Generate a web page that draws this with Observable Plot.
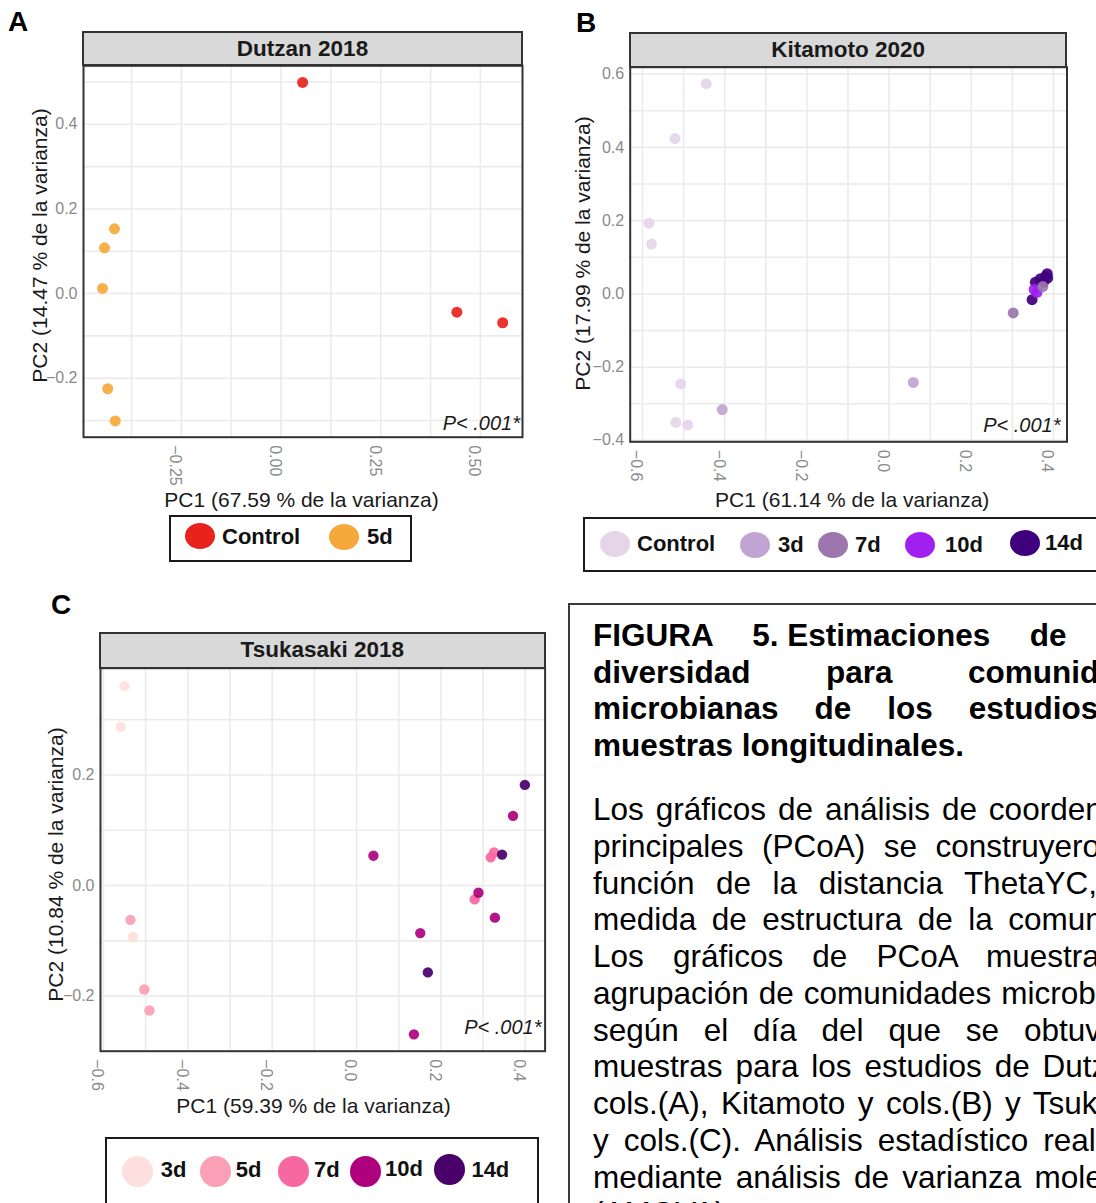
<!DOCTYPE html>
<html><head><meta charset="utf-8">
<script src="https://cdn.jsdelivr.net/npm/d3@7"></script>
<script src="https://cdn.jsdelivr.net/npm/@observablehq/plot@0.6"></script>
<style>
html,body{margin:0;padding:0;background:#fff;width:1096px;height:1203px;overflow:hidden;}
body{position:relative;font-family:'Liberation Sans',Arial,Helvetica,sans-serif;}
.plotwrap{position:absolute;}
.strip{position:absolute;box-sizing:border-box;background:#d9d9d9;border:2px solid #333;font-weight:bold;font-size:22.5px;color:#1a1a1a;display:flex;align-items:center;justify-content:center;}
.letter{position:absolute;font-weight:bold;font-size:28px;line-height:28px;color:#000;}
.legend{position:absolute;box-sizing:border-box;border:2px solid #1a1a1a;background:#fff;}
.key{position:absolute;border-radius:50%;}
.ltxt{position:absolute;font-weight:bold;font-size:22px;line-height:22px;color:#111;white-space:nowrap;}
.cap{position:absolute;left:568px;top:603px;width:700px;height:700px;box-sizing:border-box;border:2px solid #3a3a3a;}
.jl{position:absolute;left:593px;width:578px;font-size:31.5px;line-height:36.7px;text-align:justify;text-align-last:justify;color:#000;}
.b{font-weight:bold;}
.last{text-align-last:left;text-align:left;}
.ib{display:inline-block;text-align-last:auto;}
</style></head><body>
<div id="root"></div>
<script>
// ---------- DATA ----------
// Panel A: Dutzan 2018
const dutzanGroups = ["Control", "5d"];
const dutzanColors = ["#e8231c", "#f6a93b"];
const dutzanGroup = ["Control", "Control", "Control", "5d", "5d", "5d", "5d", "5d"];
const dutzanPC1 = [0.054, 0.441, 0.556, -0.418, -0.443, -0.448, -0.435, -0.416];
const dutzanPC2 = [0.499, -0.044, -0.069, 0.153, 0.108, 0.012, -0.225, -0.301];
const dutzanXTicks = [-0.25, 0, 0.25, 0.5];
const dutzanYTicks = [-0.2, 0, 0.2, 0.4];
const dutzanXGrid = [-0.375, -0.25, -0.125, 0, 0.125, 0.25, 0.375, 0.5];
const dutzanYGrid = [-0.3, -0.2, -0.1, 0, 0.1, 0.2, 0.3, 0.4, 0.5];

// Panel B: Kitamoto 2020
const kitaGroups = ["Control", "3d", "7d", "10d", "14d"];
const kitaColors = ["#e6d5e9", "#c1a4d1", "#9c76ad", "#a020f0", "#3f007d"];
const kitaGroup = ["Control", "Control", "Control", "Control", "Control", "Control", "Control",
  "3d", "3d", "14d", "14d", "14d", "14d", "14d", "14d", "14d", "10d", "10d", "7d", "7d"];
const kitaPC1 = [-0.445, -0.521, -0.584, -0.578, -0.507, -0.519, -0.490,
  -0.406, 0.059, 0.348, 0.356, 0.368, 0.381, 0.386, 0.376, 0.385, 0.360, 0.353, 0.302, 0.374];
const kitaPC2 = [0.574, 0.424, 0.193, 0.136, -0.246, -0.351, -0.358,
  -0.316, -0.242, -0.016, 0.032, 0.041, 0.048, 0.043, 0.032, 0.055, 0.004, 0.012, -0.052, 0.020];
const kitaXTicks = [-0.6, -0.4, -0.2, 0, 0.2, 0.4];
const kitaYTicks = [-0.4, -0.2, 0, 0.2, 0.4, 0.6];
const kitaXGrid = [-0.6, -0.5, -0.4, -0.3, -0.2, -0.1, 0, 0.1, 0.2, 0.3, 0.4];
const kitaYGrid = [-0.4, -0.3, -0.2, -0.1, 0, 0.1, 0.2, 0.3, 0.4, 0.5, 0.6];

// Panel C: Tsukasaki 2018
const tsukaGroups = ["3d", "5d", "7d", "10d", "14d"];
const tsukaColors = ["#fde0dd", "#fa9fb5", "#f768a1", "#ae017e", "#49006a"];
const tsukaGroup = ["3d", "3d", "3d", "5d", "5d", "5d", "7d", "7d", "7d",
  "10d", "10d", "10d", "10d", "10d", "10d", "14d", "14d", "14d"];
const tsukaPC1 = [-0.550, -0.559, -0.530, -0.536, -0.503, -0.491, 0.318, 0.326, 0.280,
  0.040, 0.371, 0.289, 0.328, 0.151, 0.136, 0.399, 0.345, 0.169];
const tsukaPC2 = [0.361, 0.287, -0.093, -0.062, -0.188, -0.226, 0.051, 0.060, -0.025,
  0.054, 0.126, -0.013, -0.058, -0.086, -0.269, 0.182, 0.056, -0.157];
const tsukaXTicks = [-0.6, -0.4, -0.2, 0, 0.2, 0.4];
const tsukaYTicks = [-0.2, 0, 0.2];
const tsukaXGrid = [-0.6, -0.5, -0.4, -0.3, -0.2, -0.1, 0, 0.1, 0.2, 0.3, 0.4];
const tsukaYGrid = [-0.2, -0.1, 0, 0.1, 0.2, 0.3];

const pLabel = "P< .001*";

// Caption text
const captionTitle = [
  "FIGURA 5. Estimaciones de beta",
  "diversidad para comunidades",
  "microbianas de los estudios de",
  "muestras longitudinales."
];
const captionBody = [
  "Los gráficos de análisis de coordenadas",
  "principales (PCoA) se construyeron en",
  "función de la distancia ThetaYC, una",
  "medida de estructura de la comunidad.",
  "Los gráficos de PCoA muestran la",
  "agrupación de comunidades microbianas",
  "según el día del que se obtuvieron",
  "muestras para los estudios de Dutzan y",
  "cols.(A), Kitamoto y cols.(B) y Tsukasaki",
  "y cols.(C). Análisis estadístico realizado",
  "mediante análisis de varianza molecular",
  "(AMOVA)."
];

// ---------- RENDER ----------
const FONT = "'Liberation Sans', Arial, Helvetica, sans-serif";
const GRID = "#ebebeb";
const TICK = "#8a8a8a";
const root = document.getElementById("root");

function makePanel(c) {
  const data = c.pc1.map((x, i) => ({pc1: x, pc2: c.pc2[i], group: c.group[i]}));
  return Plot.plot({
    width: c.width, height: c.height,
    marginLeft: c.mL, marginRight: c.mR, marginTop: c.mT, marginBottom: c.mB,
    style: {fontFamily: FONT, background: "transparent", overflow: "visible"},
    x: {domain: c.xDomain, label: null},
    y: {domain: c.yDomain, label: null},
    color: {domain: c.groups, range: c.colors},
    marks: [
      Plot.gridX(c.xGrid, {stroke: GRID, strokeOpacity: 1, strokeWidth: 1.6}),
      Plot.gridY(c.yGrid, {stroke: GRID, strokeOpacity: 1, strokeWidth: 1.6}),
      Plot.dot(data, {x: "pc1", y: "pc2", fill: "group", r: c.r, fillOpacity: 0.92}),
      Plot.frame({stroke: "#333", strokeWidth: 2}),
      Plot.axisX(c.xTicks, {tickRotate: 90, tickSize: 0, tickPadding: 8, tickFormat: d3.format(c.xFmt),
        color: TICK, fill: TICK, fontSize: 16, dx: -6, label: null}),
      Plot.axisY(c.yTicks, {tickSize: 0, tickPadding: 6, tickFormat: d3.format(".1f"),
        color: TICK, fill: TICK, fontSize: 16, label: null}),
      Plot.text([c.xTitle], {frameAnchor: "bottom", text: d => d, lineAnchor: "middle",
        dx: c.xTitleDx, dy: c.xTitleDy, fontSize: 21, fill: "#1a1a1a"}),
      Plot.text([c.yTitle], {frameAnchor: "left", text: d => d, rotate: -90, textAnchor: "middle",
        lineAnchor: "middle", dx: c.yTitleDx, dy: c.yTitleDy, fontSize: 21, fill: "#1a1a1a"}),
      Plot.text([pLabel], {frameAnchor: "bottom-right", text: d => d, textAnchor: "end", lineAnchor: "middle",
        dx: c.pDx, dy: c.pDy, fontSize: 20, fontStyle: "italic", fill: "#1a1a1a"})
    ]
  });
}

function place(el, left, top) {
  const w = document.createElement("div");
  w.className = "plotwrap";
  w.style.left = left + "px"; w.style.top = top + "px";
  w.appendChild(el);
  root.appendChild(w);
}
function div(cls, css, html) {
  const d = document.createElement("div");
  d.className = cls;
  Object.assign(d.style, css);
  if (html != null) d.innerHTML = html;
  root.appendChild(d);
  return d;
}

const panels = [
  {left: 0, top: 0, width: 540, height: 515, mL: 83, mR: 18, mT: 65.3, mB: 78.3,
   xDomain: [-0.4957, 0.6057], yDomain: [-0.3395, 0.5383],
   pc1: dutzanPC1, pc2: dutzanPC2, group: dutzanGroup, groups: dutzanGroups, colors: dutzanColors,
   xTicks: dutzanXTicks, yTicks: dutzanYTicks, xGrid: dutzanXGrid, yGrid: dutzanYGrid, xFmt: ".2f", r: 5.5,
   xTitle: "PC1 (67.59 % de la varianza)", yTitle: "PC2 (14.47 % de la varianza)",
   xTitleDx: -1.5, xTitleDy: 63.3, yTitleDx: -43, yTitleDy: -6, pDx: -2.5, pDy: -14,
   strip: "Dutzan 2018", stripBox: [82, 31.3, 441, 35], letter: ["A", 8, 8]},
  {left: 560, top: 0, width: 536, height: 516, mL: 69.7, mR: 29.5, mT: 66.7, mB: 74.7,
   xDomain: [-0.630, 0.433], yDomain: [-0.404, 0.619],
   pc1: kitaPC1, pc2: kitaPC2, group: kitaGroup, groups: kitaGroups, colors: kitaColors,
   xTicks: kitaXTicks, yTicks: kitaYTicks, xGrid: kitaXGrid, yGrid: kitaYGrid, xFmt: ".1f", r: 5.5,
   xTitle: "PC1 (61.14 % de la varianza)", yTitle: "PC2 (17.99 % de la varianza)",
   xTitleDx: 3.6, xTitleDy: 58.7, yTitleDx: -47, yTitleDy: -1, pDx: -6.5, pDy: -16.3,
   strip: "Kitamoto 2020", stripBox: [628.7, 32.3, 438.8, 35.4], letter: ["B", 576, 9]},
  {left: 0, top: 580, width: 560, height: 556, mL: 100, mR: 15.4, mT: 87.7, mB: 85.3,
   xDomain: [-0.607, 0.447], yDomain: [-0.2995, 0.393],
   pc1: tsukaPC1, pc2: tsukaPC2, group: tsukaGroup, groups: tsukaGroups, colors: tsukaColors,
   xTicks: tsukaXTicks, yTicks: tsukaYTicks, xGrid: tsukaXGrid, yGrid: tsukaYGrid, xFmt: ".1f", r: 5.2,
   xTitle: "PC1 (59.39 % de la varianza)", yTitle: "PC2 (10.84 % de la varianza)",
   xTitleDx: -9.3, xTitleDy: 55.3, yTitleDx: -44.6, yTitleDy: 4.8, pDx: -3.6, pDy: -24,
   strip: "Tsukasaki 2018", stripBox: [99, 632.3, 446.6, 36.4], letter: ["C", 51, 591]}
];

for (const p of panels) {
  place(makePanel(p), p.left, p.top);
  const [sl, st, sw, sh] = p.stripBox;
  div("strip", {left: sl + "px", top: st + "px", width: sw + "px", height: sh + "px"}, p.strip);
  div("letter", {left: p.letter[1] + "px", top: p.letter[2] + "px"}, p.letter[0]);
}

// Legends
const legends = [
  {box: [169, 515, 243, 47], groups: dutzanGroups, colors: dutzanColors, rx: 15, ry: 13,
   keys: [[200, 536], [343.5, 537]], texts: [[222, 537], [367, 537]]},
  {box: [583.4, 516.7, 620, 55], groups: kitaGroups, colors: kitaColors, rx: 15, ry: 13,
   keys: [[615.3, 543.5], [754.6, 545], [833.4, 545], [920, 545], [1024.7, 543]],
   texts: [[637, 544], [778, 545], [855, 545], [945, 545], [1045, 543]]},
  {box: [105.4, 1136.7, 434, 120], groups: tsukaGroups, colors: tsukaColors, rx: 15.5, ry: 15.5,
   keys: [[137.9, 1171], [215, 1171.7], [293.6, 1171], [365.4, 1171], [449.3, 1169.7]],
   texts: [[160.7, 1170], [235.7, 1170], [314, 1170], [385, 1169], [471.4, 1170]]}
];
for (const L of legends) {
  const [bl, bt, bw, bh] = L.box;
  div("legend", {left: bl + "px", top: bt + "px", width: bw + "px", height: bh + "px"});
  L.groups.forEach((g, i) => {
    const [cx, cy] = L.keys[i];
    div("key", {left: (cx - L.rx) + "px", top: (cy - L.ry) + "px", width: 2 * L.rx + "px",
      height: 2 * L.ry + "px", background: L.colors[i]});
    const [tx, ty] = L.texts[i];
    div("ltxt", {left: tx + "px", top: (ty - 11) + "px"}, g);
  });
}

// Caption box
div("cap", {});
captionTitle.forEach((t, i) => {
  const last = i === captionTitle.length - 1;
  let html = t;
  if (i === 0) html = t.replace("5. Estimaciones", '<span class="ib">5. Estimaciones</span>');
  div("jl b" + (last ? " last" : ""), {top: (635 + i * 36.7 - 18) + "px"}, html);
});
captionBody.forEach((t, i) => {
  const last = i === captionBody.length - 1;
  div("jl" + (last ? " last" : ""), {top: (809 + i * 36.75 - 18) + "px"}, t);
});
</script>
</body></html>
